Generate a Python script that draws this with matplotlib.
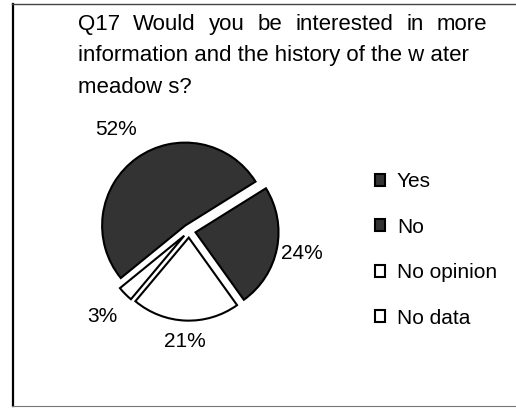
import numpy as np
import matplotlib
matplotlib.use("Agg")
import matplotlib.pyplot as plt
from matplotlib.lines import Line2D

plt.rcParams['font.family'] = ['Liberation Sans', 'DejaVu Sans']

# Survey answers (percent of respondents)
categories = ["Yes", "No", "No opinion", "No data"]
values = [52, 24, 21, 3]
value_labels = ["52%", "24%", "21%", "3%"]
title_lines = [
    "Q17 Would you be interested in more",
    "information and the history of the w ater",
    "meadow s?",
]

W, H = 516, 408
fig = plt.figure(figsize=(W / 100, H / 100), dpi=100)
ax = fig.add_axes([0, 0, 1, 1])

dark = '#333333'
face_colors = [dark, dark, 'white', 'white']

# pie drawn in pixel-sized data units; explode is an absolute offset
cx, cy, r = 189, H - 231, 83
wedges, _ = ax.pie(
    values,
    colors=face_colors,
    startangle=219.2,
    counterclock=False,
    explode=[0.08 * r] * len(values),
    center=(cx, cy),
    radius=r,
    wedgeprops=dict(edgecolor='black', linewidth=1.5),
    frame=True,
)
ax.set_xlim(0, W)
ax.set_ylim(0, H)
ax.set_aspect('equal')
ax.axis('off')

# percentage labels outside each wedge
label_dist = [1.50, 1.39, 1.33, 1.47]
for w, txt, d in zip(wedges, value_labels, label_dist):
    mid = np.deg2rad((w.theta1 + w.theta2) / 2)
    ax.text(cx + d * r * np.cos(mid), cy + d * r * np.sin(mid), txt,
            ha='center', va='center', fontsize=15)

# title, first line justified across the text block
fs_title = 16
x_left, x_right = 78, 487
baselines = [30, 61.5, 93]
fig.canvas.draw()
renderer = fig.canvas.get_renderer()
words = title_lines[0].split(" ")
tmp = [ax.text(0, 0, wd, fontsize=fs_title) for wd in words]
widths = [t.get_window_extent(renderer).width for t in tmp]
for t in tmp:
    t.remove()
gap = (x_right - x_left - sum(widths)) / (len(words) - 1)
x = x_left
for wd, wdt in zip(words, widths):
    ax.text(x, H - baselines[0], wd, fontsize=fs_title, va='baseline', ha='left')
    x += wdt + gap
for line, b in zip(title_lines[1:], baselines[1:]):
    ax.text(x_left, H - b, line, fontsize=fs_title, va='baseline', ha='left')

# legend
leg = ax.legend(wedges, categories, loc='center left',
                bbox_to_anchor=(375, H - 250), bbox_transform=ax.transData,
                frameon=False, fontsize=15, handlelength=0.5, handleheight=0.5,
                handletextpad=0.55, labelspacing=1.27, borderpad=0, borderaxespad=0)

# outer frame
fig.add_artist(Line2D([12.5 / W, 12.5 / W], [1 - 4 / H, 1 - 406 / H],
                      transform=fig.transFigure, color='black', lw=1.6))
fig.add_artist(Line2D([12 / W, 1], [1 - 4 / H, 1 - 4 / H],
                      transform=fig.transFigure, color='#444444', lw=1.0))
fig.add_artist(Line2D([12 / W, 1], [1 - 406 / H, 1 - 406 / H],
                      transform=fig.transFigure, color='#777777', lw=0.8))

fig.savefig("out.png", dpi=100)
